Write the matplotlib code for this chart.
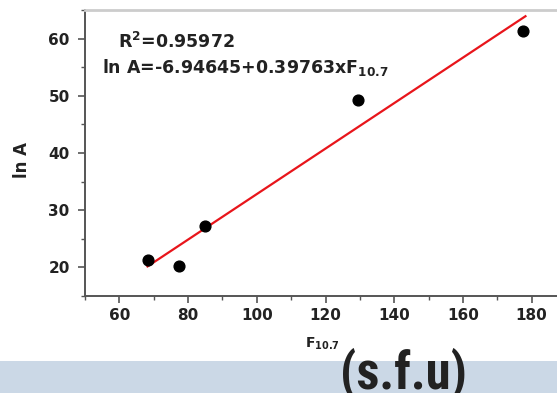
import numpy as np
import matplotlib.pyplot as plt
from matplotlib import font_manager
from matplotlib.patches import Rectangle
from matplotlib.ticker import MultipleLocator

# F10.7 solar flux vs ln A
f107 = [68.2, 77.3, 85.0, 129.6, 177.6]
ln_a = [21.3, 20.2, 27.2, 49.3, 61.3]
intercept = -6.94645
slope = 0.39763
r2 = 0.95972

plt.rcParams['font.family'] = ['DejaVu Sans']
plt.rcParams['font.weight'] = 'bold'
plt.rcParams['mathtext.default'] = 'bf'

W, H = 557, 393
fig = plt.figure(figsize=(W / 100, H / 100), dpi=100)


def fx(px):
    return px / W


def fy(py):
    return 1 - py / H


# narrow face for the big unit label
installed = {f.name for f in font_manager.fontManager.ttflist}
narrow = next((n for n in ['Roboto Condensed', 'Liberation Sans Narrow',
                           'Arimo', 'Roboto'] if n in installed), 'DejaVu Sans')

# slide band along the bottom
fig.patches.append(Rectangle((0, 0), 1, 32 / H, transform=fig.transFigure,
                             facecolor='#cbd8e6', edgecolor='none', zorder=0))

ax = fig.add_axes([fx(85), fy(296), 481 / W, 286 / H])
ax.set_facecolor('white')

ax.scatter(f107, ln_a, s=60, color='black', zorder=3)
xfit = np.array([min(f107), max(f107) + 0.6])
ax.plot(xfit, intercept + slope * xfit, color='#e8151b', lw=1.6, zorder=2)

ax.set_xlim(50, 190)
ax.set_ylim(15, 65)
ax.set_xticks(range(60, 181, 20))
ax.xaxis.set_minor_locator(MultipleLocator(10))
ax.yaxis.set_major_locator(MultipleLocator(10))
ax.yaxis.set_minor_locator(MultipleLocator(5))
ax.tick_params(which='major', direction='out', length=5, width=1.2,
               color='#555555', labelsize=11, labelcolor='#222222')
ax.tick_params(which='minor', direction='out', length=3, width=1.0,
               color='#555555')
ax.tick_params(axis='x', which='major', pad=4)
ax.tick_params(axis='y', which='major', pad=6)

for side in ['left', 'bottom']:
    ax.spines[side].set_color('#555555')
    ax.spines[side].set_linewidth(1.4)
ax.spines['top'].set_color('#cccccc')
ax.spines['top'].set_linewidth(2)
ax.spines['right'].set_visible(False)

fig.text(fx(22), fy(160), 'ln A', rotation=90, fontsize=12,
         color='#222222', ha='center', va='center')

fig.text(fx(118), fy(42), 'R$^{2}$=%.5f' % r2, fontsize=12.5,
         color='#222222', va='center')
fig.text(fx(102), fy(68),
         'ln A=%.5f+%.5fxF$_{10.7}$' % (intercept, slope),
         fontsize=12.5, color='#222222', va='center')

fig.text(fx(305), fy(344), 'F$_{10.7}$', fontsize=10,
         color='#222222', va='center')
unit = fig.text(fx(340), fy(388), '(s.f.u)', fontsize=40, family=narrow,
                color='#222222', va='baseline', zorder=5)

# shrink/grow the unit label to span ~127 px
renderer = fig.canvas.get_renderer()
w = unit.get_window_extent(renderer).width
unit.set_fontsize(min(48, 40 * 127 / w))

fig.savefig('out.png', dpi=100)
